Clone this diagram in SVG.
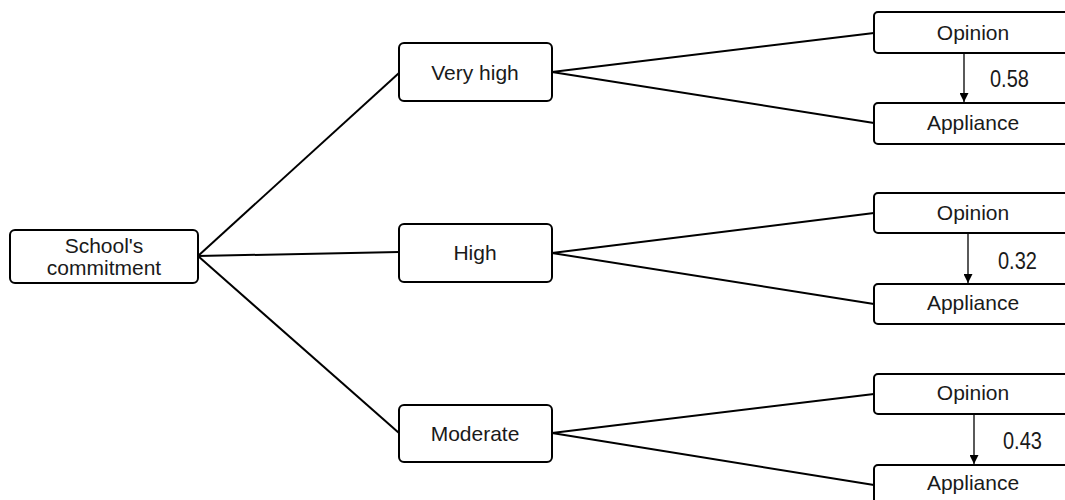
<svg xmlns="http://www.w3.org/2000/svg" width="1065" height="500" viewBox="0 0 1065 500">
<style>
.box{fill:#fff;stroke:#000;stroke-width:2}
.t{font-family:"Liberation Sans",Arial,sans-serif;font-size:21px;fill:#1a1a1a;text-anchor:middle}
.n{font-family:"Liberation Sans",Arial,sans-serif;font-size:20px;fill:#1a1a1a}
.c{stroke:#000;stroke-width:2;fill:none}
.a{stroke:#000;stroke-width:1.3;fill:none;marker-end:url(#ah)}
</style>
<defs>
<marker id="ah" viewBox="0 0 10 10" refX="10" refY="5" markerWidth="9" markerHeight="9" markerUnits="userSpaceOnUse" orient="auto">
<path d="M0,0 L10,5 L0,10 z" fill="#000"/>
</marker>
</defs>
<rect width="1065" height="500" fill="#fff"/>
<g id="connectors">
<line class="c" x1="198" y1="256" x2="399" y2="73"/>
<line class="c" x1="198" y1="256" x2="399" y2="252"/>
<line class="c" x1="198" y1="256" x2="399" y2="433"/>
<line class="c" x1="552" y1="72" x2="874" y2="33"/>
<line class="c" x1="552" y1="72" x2="874" y2="123"/>
<line class="c" x1="552" y1="253" x2="874" y2="213"/>
<line class="c" x1="552" y1="253" x2="874" y2="304"/>
<line class="c" x1="552" y1="433" x2="874" y2="394"/>
<line class="c" x1="552" y1="433" x2="874" y2="485"/>
<line class="a" x1="964" y1="53" x2="964" y2="102"/>
<line class="a" x1="968" y1="233" x2="968" y2="283"/>
<line class="a" x1="974" y1="414" x2="974" y2="464"/>
</g>
<g id="school">
<rect class="box" x="10" y="230" width="188" height="53" rx="5"/>
<text class="t" x="104" y="253">School's</text>
<text class="t" x="104" y="275">commitment</text>
</g>
<g id="veryhigh">
<rect class="box" x="399" y="43" width="153" height="58" rx="5"/>
<text class="t" x="475" y="80">Very high</text>
</g>
<g id="high">
<rect class="box" x="399" y="224" width="153" height="58" rx="5"/>
<text class="t" x="475" y="260">High</text>
</g>
<g id="moderate">
<rect class="box" x="399" y="405" width="153" height="57" rx="5"/>
<text class="t" x="475" y="441">Moderate</text>
</g>
<g id="opinion1">
<rect class="box" x="874" y="12" width="200" height="41" rx="4"/>
<text class="t" x="973" y="40">Opinion</text>
</g>
<g id="appliance1">
<rect class="box" x="874" y="103" width="200" height="41" rx="4"/>
<text class="t" x="973" y="130">Appliance</text>
</g>
<g id="opinion2">
<rect class="box" x="874" y="193" width="200" height="40" rx="4"/>
<text class="t" x="973" y="220">Opinion</text>
</g>
<g id="appliance2">
<rect class="box" x="874" y="284" width="200" height="40" rx="4"/>
<text class="t" x="973" y="310">Appliance</text>
</g>
<g id="opinion3">
<rect class="box" x="874" y="374" width="200" height="40" rx="4"/>
<text class="t" x="973" y="400">Opinion</text>
</g>
<g id="appliance3">
<rect class="box" x="874" y="465" width="200" height="45" rx="4"/>
<text class="t" x="973" y="490">Appliance</text>
</g>
<g id="labels">
<text class="n" transform="translate(990,87) scale(1,1.2)">0.58</text>
<text class="n" transform="translate(998,269) scale(1,1.2)">0.32</text>
<text class="n" transform="translate(1003,449) scale(1,1.2)">0.43</text>
</g>
</svg>
